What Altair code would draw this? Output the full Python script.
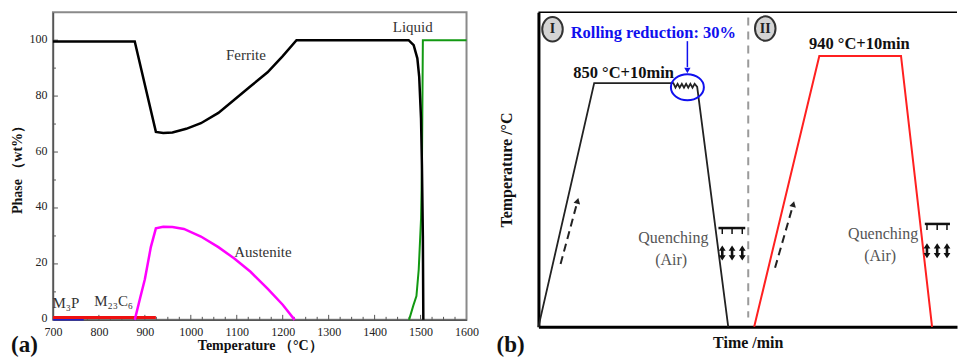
import altair as alt
import pandas as pd

SERIF = "Liberation Serif"

# ---------------- panel (a): phase fractions ----------------
ferrite_T = [700, 878, 924, 940, 960, 990, 1022, 1060, 1094, 1130, 1167, 1200, 1230,
             1474, 1485, 1493, 1497, 1501, 1503, 1505, 1506]
ferrite_w = [99.5, 99.5, 67.2, 66.8, 67.0, 68.3, 70.3, 74.0, 78.6, 83.5, 88.5, 94.3, 100,
             100, 98.2, 93.5, 87, 72, 55, 30, 0]
liquid_T = [1475, 1484, 1491, 1496, 1501, 1503, 1505, 1600]
liquid_w = [0, 5, 8.5, 18, 36, 54, 100, 100]
aust_T = [878, 890, 900, 913, 924, 940, 960, 985, 1022, 1060, 1094, 1130, 1167, 1200, 1226]
aust_w = [0, 8, 14.5, 26, 32.7, 33.3, 33.2, 32.5, 29.8, 26, 22, 17.2, 11.2, 5.4, 0]
m23c6_T = [700, 924]
m23c6_w = [0.8, 0.8]
m3p_T = [700, 767]
m3p_w = [0.3, 0.3]

x_ticks_a = list(range(700, 1601, 100))
y_ticks_a = [0, 20, 40, 60, 80, 100]
x_minor_a = list(range(725, 1600, 25))
y_minor_a = list(range(10, 101, 10))

phase_labels = ["Ferrite", "Liquid", "Austenite", "M₃P", "M₂₃C₆"]
phase_label_T = [1120, 1483, 1157, 728, 832]
phase_label_w = [94.6, 104.6, 24.3, 6.0, 6.8]

# ---------------- panel (b): heat-treatment schematic ----------------
route1_t = [0, 13.1, 31.7, 32.2, 32.7, 33.2, 33.7, 34.2, 34.7, 35.2, 35.7, 36.2, 36.7, 37.3, 44.6]
route1_T = [0, 77.2, 77.2, 75.8, 77.0, 75.8, 77.0, 75.8, 77.0, 75.8, 77.0, 75.8, 77.0, 76.0, 0]
route2_t = [50.7, 66.0, 85.2, 92.5]
route2_T = [0, 85.8, 85.8, 0]

divider_t = [49.3, 49.3]
divider_T = [98, 3]

heat_arrow_t = [[5.2, 9.2], [55.6, 59.9]]
heat_arrow_T = [[19.9, 39.9], [18.7, 38.9]]

texts_b = ["Rolling reduction: 30%", "850 °C+10min", "940 °C+10min"]
texts_b_t = [27.0, 20.0, 75.4]
texts_b_T = [93.0, 80.4, 89.6]
texts_b_color = ["#1010ee", "#111111", "#111111"]

quench_text = ["Quenching", "(Air)", "Quenching", "(Air)"]
quench_text_t = [31.7, 31.2, 81.0, 80.3]
quench_text_T = [28.2, 21.2, 29.4, 22.5]

quench_bar_t1 = [42.3, 90.8]
quench_bar_t2 = [48.6, 96.7]
quench_bar_T = [31.3, 32.6]
quench_jet_t = [43.2, 45.5, 47.9, 91.3, 93.7, 96.0]
quench_jet_T1 = [31.3, 31.3, 31.3, 32.6, 32.6, 32.6]
quench_jet_T2 = [29.4, 29.4, 29.4, 30.7, 30.7, 30.7]
quench_arrow_T = [23.4, 23.4, 23.4, 24.1, 24.1, 24.1]

stage_labels = ["I", "II"]
stage_t = [3.3, 53.3]
stage_T = [94.3, 94.5]

roll_t = [35.0]
roll_T = [75.9]
roll_arrow_T = [90.5, 82.3]
roll_head_T = [81.2]

# =================== build panel (a) ===================
WA, HA = 414, 308
xA = alt.Scale(domain=[700, 1600], nice=False, zero=False)
yA = alt.Scale(domain=[0, 110], nice=False)
axXA = alt.Axis(values=x_ticks_a, format="d", ticks=False, grid=False, labelFlush=False,
                title="Temperature （°C）", labelPadding=7, titlePadding=1, titleFontSize=14,
                domainColor="#555", domainWidth=1.5)
axYA = alt.Axis(values=y_ticks_a, ticks=False, grid=False, title="Phase （wt%）",
                labelPadding=6, titlePadding=4, labelOffset=-2,
                domainColor="#555", domainWidth=1.5)


def XA():
    return alt.X("T:Q", scale=xA, axis=axXA)


def YA():
    return alt.Y("w:Q", scale=yA, axis=axYA)


def phase_line(T, w, color, width):
    df = pd.DataFrame({"T": T, "w": w})
    return alt.Chart(df).mark_line(color=color, strokeWidth=width).encode(x=XA(), y=YA())


xt = pd.DataFrame({"T": x_minor_a})
xt_major = xt[xt["T"] % 100 == 0]
xt_minor = xt[xt["T"] % 100 != 0]
yt = pd.DataFrame({"w": y_minor_a})
yt_major = yt[yt["w"] % 20 == 0]
yt_minor = yt[yt["w"] % 20 != 0]

tick_layers = [
    alt.Chart(xt_major).mark_rule(color="#555", strokeWidth=1).encode(
        x=XA(), y=alt.value(HA), y2=alt.value(HA - 5)),
    alt.Chart(xt_minor).mark_rule(color="#555", strokeWidth=1).encode(
        x=XA(), y=alt.value(HA), y2=alt.value(HA - 3)),
    alt.Chart(yt_major).mark_rule(color="#555", strokeWidth=1).encode(
        y=YA(), x=alt.value(0), x2=alt.value(5)),
    alt.Chart(yt_minor).mark_rule(color="#555", strokeWidth=1).encode(
        y=YA(), x=alt.value(0), x2=alt.value(3)),
]

lab_df = pd.DataFrame({"T": phase_label_T, "w": phase_label_w, "label": phase_labels})
labels_a = alt.Chart(lab_df).mark_text(font=SERIF, fontSize=15, color="#333").encode(
    x=XA(), y=YA(), text="label:N")

tag_a = alt.Chart(pd.DataFrame({"lab": ["(a)"]})).mark_text(
    font=SERIF, fontSize=23, fontWeight="bold", align="left", color="#111").encode(
    x=alt.value(-42), y=alt.value(333), text="lab:N")

panel_a = alt.layer(
    *tick_layers,
    phase_line(m3p_T, m3p_w, "#2222cc", 3),
    phase_line(m23c6_T, m23c6_w, "#ee1111", 3),
    phase_line(aust_T, aust_w, "#ff00ff", 2.5),
    phase_line(liquid_T, liquid_w, "#129912", 2),
    phase_line(ferrite_T, ferrite_w, "#000000", 2.5),
    labels_a,
    tag_a,
).properties(width=WA, height=HA,
             view=alt.ViewBackground(stroke="#8a8a8a", strokeWidth=2))

# =================== build panel (b) ===================
WB, HB = 419, 315
PXU_X, PXU_Y = 4.26, 3.16
xB = alt.Scale(domain=[0, WB / PXU_X], nice=False, zero=False)
yB = alt.Scale(domain=[0, HB / PXU_Y], nice=False)
axXB = alt.Axis(labels=False, ticks=False, grid=False, title="Time /min",
                titlePadding=8, titleFontSize=16, domainColor="#000", domainWidth=3)
axYB = alt.Axis(labels=False, ticks=False, grid=False, title="Temperature /°C",
                titlePadding=24, titleFontSize=16, domainColor="#000", domainWidth=3)


def XB(field="t"):
    return alt.X(f"{field}:Q", scale=xB, axis=axXB)


def YB(field="y"):
    return alt.Y(f"{field}:Q", scale=yB, axis=axYB)


def path_df(t, y):
    return pd.DataFrame({"t": t, "y": y, "i": list(range(len(t)))})


route1 = alt.Chart(path_df(route1_t, route1_T)).mark_line(
    color="#222", strokeWidth=1.8).encode(x=XB(), y=YB(), order="i:Q")
route2 = alt.Chart(path_df(route2_t, route2_T)).mark_line(
    color="#ff2020", strokeWidth=2).encode(x=XB(), y=YB(), order="i:Q")
divider = alt.Chart(path_df(divider_t, divider_T)).mark_line(
    color="#9a9a9a", strokeWidth=2, strokeDash=[8, 6]).encode(x=XB(), y=YB(), order="i:Q")

heat_layers = []
for tt, yy in zip(heat_arrow_t, heat_arrow_T):
    heat_layers.append(alt.Chart(path_df(tt, yy)).mark_line(
        color="#222", strokeWidth=2, strokeDash=[8, 5]).encode(x=XB(), y=YB(), order="i:Q"))
head_df = pd.DataFrame({"t": [a[1] for a in heat_arrow_t], "y": [a[1] for a in heat_arrow_T]})
heat_heads = alt.Chart(head_df).mark_point(
    shape="triangle-up", filled=True, color="#222", size=45, angle=15, opacity=1).encode(
    x=XB(), y=YB())

top_border = alt.Chart(pd.DataFrame({"k": [0]})).mark_rule(color="#000", strokeWidth=1.5).encode(
    x=alt.value(0), x2=alt.value(WB), y=alt.value(0))

tb_df = pd.DataFrame({"t": texts_b_t, "y": texts_b_T, "label": texts_b, "c": texts_b_color})
texts_b_layer = alt.Chart(tb_df).mark_text(font=SERIF, fontSize=16.5, fontWeight="bold").encode(
    x=XB(), y=YB(), text="label:N", color=alt.Color("c:N", scale=None))

q_df = pd.DataFrame({"t": quench_text_t, "y": quench_text_T, "label": quench_text})
quench_layer = alt.Chart(q_df).mark_text(font=SERIF, fontSize=16, color="#555").encode(
    x=XB(), y=YB(), text="label:N")

bar_df = pd.DataFrame({"t": quench_bar_t1, "t2": quench_bar_t2, "y": quench_bar_T})
quench_bars = alt.Chart(bar_df).mark_rule(color="#111", strokeWidth=2.5).encode(
    x=XB(), x2="t2:Q", y=YB())
jet_df = pd.DataFrame({"t": quench_jet_t, "y": quench_jet_T1, "y2": quench_jet_T2,
                       "ya": quench_arrow_T})
quench_jets = alt.Chart(jet_df).mark_rule(color="#111", strokeWidth=1.5).encode(
    x=XB(), y=YB(), y2="y2:Q")
DOUBLE_ARROW = ("M 0 -1 L 0.45 -0.3 L 0.17 -0.3 L 0.17 0.3 L 0.45 0.3 L 0 1 "
                "L -0.45 0.3 L -0.17 0.3 L -0.17 -0.3 L -0.45 -0.3 Z")
quench_arrows = alt.Chart(jet_df).mark_point(
    shape=DOUBLE_ARROW, filled=True, color="#111", size=230, opacity=1).encode(
    x=XB(), y=YB("ya"))

ELLIPSE_V = "M -0.84 0 A 0.84 1 0 1 1 0.84 0 A 0.84 1 0 1 1 -0.84 0 Z"
stage_df = pd.DataFrame({"t": stage_t, "y": stage_T, "label": stage_labels})
stage_circles = alt.Chart(stage_df).mark_point(
    shape=ELLIPSE_V, filled=True, fill="#d4d4d4", stroke="#333", strokeWidth=2,
    size=600, opacity=1, fillOpacity=1).encode(x=XB(), y=YB())
stage_text = alt.Chart(stage_df).mark_text(
    font=SERIF, fontSize=14, fontWeight="bold", color="#222").encode(
    x=XB(), y=YB(), text="label:N")

ELLIPSE_H = "M -1 0 A 1 0.79 0 1 1 1 0 A 1 0.79 0 1 1 -1 0 Z"
roll_df = pd.DataFrame({"t": roll_t, "y": roll_T})
roll_ellipse = alt.Chart(roll_df).mark_point(
    shape=ELLIPSE_H, filled=False, color="#1010ee", strokeWidth=2, size=1089,
    opacity=1).encode(x=XB(), y=YB())
roll_arrow = alt.Chart(path_df(roll_t * 2, roll_arrow_T)).mark_line(
    color="#1010ee", strokeWidth=1.5).encode(x=XB(), y=YB(), order="i:Q")
roll_head = alt.Chart(pd.DataFrame({"t": roll_t, "y": roll_head_T})).mark_point(
    shape="triangle-down", filled=True, color="#1010ee", size=40, opacity=1).encode(
    x=XB(), y=YB())

tag_b = alt.Chart(pd.DataFrame({"lab": ["(b)"]})).mark_text(
    font=SERIF, fontSize=23, fontWeight="bold", align="left", color="#111").encode(
    x=alt.value(-42), y=alt.value(333), text="lab:N")

panel_b = alt.layer(
    top_border, divider, route1, route2, *heat_layers, heat_heads,
    quench_layer, quench_bars, quench_jets, quench_arrows,
    stage_circles, stage_text, roll_ellipse, roll_arrow, roll_head,
    texts_b_layer, tag_b,
).properties(width=WB, height=HB,
             view=alt.ViewBackground(stroke="transparent", strokeWidth=0))

chart = alt.hconcat(panel_a, panel_b, spacing=17).properties(
    padding={"left": 2, "top": 3, "right": 0, "bottom": 0}
).configure(font=SERIF, background="white").configure_axis(
    labelFont=SERIF, titleFont=SERIF, labelFontSize=12, titleFontSize=14,
    titleFontWeight="bold", labelColor="#222", titleColor="#111"
)

chart.save("out.html", embed_options={"renderer": "svg", "actions": False})
